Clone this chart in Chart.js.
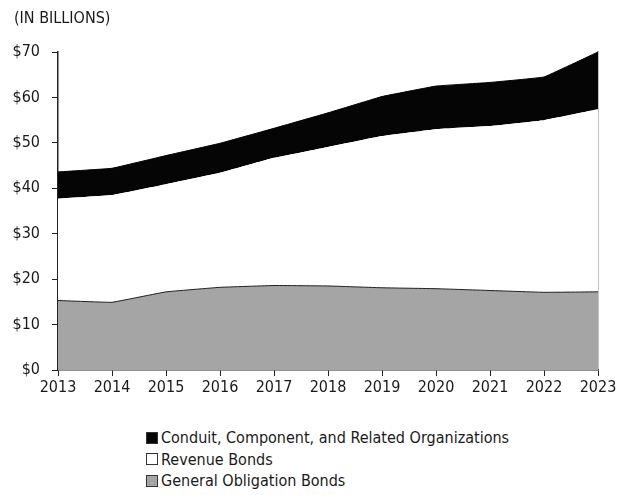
<!DOCTYPE html>
<html>
<head>
<meta charset="utf-8">
<script src="https://cdn.jsdelivr.net/npm/chart.js@4"></script>
<style>
  body { margin: 0; background: #fff; font-family: "DejaVu Sans Condensed", sans-serif; color: #1a1a1a; }
  #wrap { position: relative; width: 627px; height: 495px; }
  #box { position: absolute; left: 0; top: 0; width: 627px; height: 400px; }
  #unit { position: absolute; left: 14px; top: 8px; font-size: 16px; }
  #legend { position: absolute; left: 146px; top: 427px; font-size: 16px; line-height: 21.5px; }
  #legend div { display: flex; align-items: center; }
  #legend span.sw { display: inline-block; width: 10px; height: 10px; border: 1px solid #333; margin-right: 3px; }
</style>
</head>
<body>
<div id="wrap">
  <div id="box"><canvas id="chart"></canvas></div>
  <div id="unit">(IN BILLIONS)</div>
  <div id="legend"></div>
</div>
<script>
const years = ['2013', '2014', '2015', '2016', '2017', '2018', '2019', '2020', '2021', '2022', '2023'];
const generalObligation = [15.3, 14.9, 17.2, 18.2, 18.6, 18.5, 18.1, 17.9, 17.5, 17.1, 17.2];
const revenueBonds = [22.4, 23.6, 23.7, 25.2, 28.1, 30.6, 33.4, 35.1, 36.2, 37.9, 40.2];
const conduit = [5.9, 5.9, 6.3, 6.5, 6.5, 7.5, 8.7, 9.5, 9.6, 9.5, 12.6];
const yTicks = [0, 10, 20, 30, 40, 50, 60, 70];

const series = [
    { label: 'General Obligation Bonds', data: generalObligation, color: '#a5a5a5', line: '#222', fill: 'origin' },
    { label: 'Revenue Bonds', data: revenueBonds, color: '#ffffff', line: 'rgba(0,0,0,0)', fill: '-1' },
    { label: 'Conduit, Component, and Related Organizations', data: conduit, color: '#050505', line: '#050505', fill: '-1' }
];

const font = { family: '"DejaVu Sans Condensed", sans-serif', size: 16 };

new Chart(document.getElementById('chart'), {
    type: 'line',
    data: {
        labels: years,
        datasets: series.map(s => ({
            label: s.label,
            data: s.data,
            backgroundColor: s.color,
            borderColor: s.line,
            borderWidth: 1,
            pointRadius: 0,
            fill: s.fill,
            tension: 0.05
        }))
    },
    options: {
        responsive: true,
        maintainAspectRatio: false,
        animation: false,
        layout: { padding: { top: 52, right: 29, left: 0, bottom: 0 } },
        plugins: { legend: { display: false }, tooltip: { enabled: false } },
        scales: {
            x: {
                offset: false,
                grid: { drawOnChartArea: false, drawTicks: true, tickLength: 6, color: '#222' },
                border: { color: '#222', width: 1.5 },
                ticks: { color: '#1a1a1a', font: font, padding: 2, maxRotation: 0 },
                afterFit: axis => { axis.height = 30; }
            },
            y: {
                stacked: true,
                min: 0,
                max: 70,
                afterBuildTicks: axis => { axis.ticks = yTicks.map(v => ({ value: v })); },
                grid: { drawOnChartArea: false, drawTicks: true, tickLength: 6, color: '#222' },
                border: { color: '#222', width: 1.5 },
                ticks: { color: '#1a1a1a', font: font, padding: 12, callback: v => '$' + v },
                afterFit: axis => { axis.width = 58; }
            },
            yRight: {
                position: 'right',
                min: 0,
                max: 70,
                grid: { display: false },
                border: { color: '#888', width: 1.5 },
                ticks: { display: false },
                afterFit: axis => { axis.width = 0; }
            }
        }
    }
});

const legend = document.getElementById('legend');
series.slice().reverse().forEach(s => {
    const row = document.createElement('div');
    const sw = document.createElement('span');
    sw.className = 'sw';
    sw.style.background = s.color;
    row.appendChild(sw);
    row.appendChild(document.createTextNode(s.label));
    legend.appendChild(row);
});
</script>
</body>
</html>
